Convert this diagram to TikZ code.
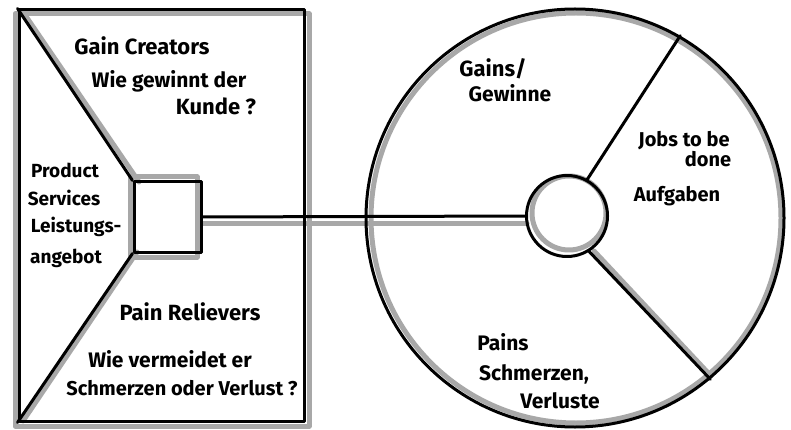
\documentclass[tikz,border=0pt]{standalone}
\usepackage{fontspec}
\setmainfont{Fira Sans}
\definecolor{shadegray}{gray}{0.66}
\begin{document}
\begin{tikzpicture}[x=1pt,y=-1pt,
  ink/.style={draw=black, line width=3pt, line join=round, line cap=round},
  shade/.style={draw=shadegray, line width=5pt, line join=round, line cap=round},
  lbl/.style={font=\bfseries\fontsize{#1}{#1}\selectfont, inner sep=0pt, text=black, anchor=base},
  lbl/.default=21
]
\useasboundingbox (0,0) rectangle (791,430);
\fill[white] (0,0) rectangle (791,430);

% ---------- grey marker shadows ----------
\draw[shade] (15,14) rectangle (309,426);
\draw[shade] (23,12) -- (139,182);
\draw[shade] (23,421) -- (137,252);
\draw[shade] (130,177) -- (197,177) -- (197,257) -- (130,257) -- cycle;
\draw[shade] (202,223) -- (527,223);
\draw[shade] (569,213) circle[radius=37];
\draw[shade] (594,251) -- (711,376);
\draw[shade] (576,218) circle[radius=205];

% ---------- value map ----------
\node[ink, minimum width=285pt, minimum height=411pt, inner sep=0pt] (frame) at (161.5,215.5) {};
\node[ink, minimum width=67pt, minimum height=70pt, inner sep=0pt] (prod) at (167.5,217) {};
\draw[ink] (frame.north west) -- (prod.north west);
\draw[ink] (frame.south west) -- (prod.south west);

% ---------- customer profile ----------
\node[ink, circle, minimum size=418pt, inner sep=0pt] (profile) at (575,218) {};
\node[ink, circle, minimum size=81pt, inner sep=0pt] (cust) at (567,216) {};
\draw[ink] (cust.61) -- (profile.60);
\draw[ink] (cust.-58) -- (profile.-50);

% ---------- fit connector ----------
\draw[ink] (prod.east) -- (cust.west);

% ---------- texts ----------
\node[lbl=22] (t1) at (142,55) {Gain Creators};
\node[lbl=21] (t2) at (169,88) {Wie gewinnt der};
\node[lbl=22] (t3) at (216,115) {Kunde ?};
\node[lbl=19] (t4) at (65,178) {Product};
\node[lbl=19] (t5) at (64,205) {Services};
\node[lbl=19] (t6) at (76,233) {Leistungs-};
\node[lbl=19] (t7) at (66,263) {angebot};
\node[lbl=22] (t8) at (190,320) {Pain Relievers};
\node[lbl=21] (t9) at (170,367) {Wie vermeidet er};
\node[lbl=20] (t10) at (182,395) {Schmerzen oder Verlust ?};
\node[lbl=22] (t11) at (493,77) {Gains/};
\node[lbl=21] (t12) at (510,102) {Gewinne};
\node[lbl=20] (t13) at (684,147) {Jobs to be};
\node[lbl=20] (t14) at (708,167) {done};
\node[lbl=20] (t15) at (677,202) {Aufgaben};
\node[lbl=21] (t16) at (503,350) {Pains};
\node[lbl=21] (t17) at (534,380) {Schmerzen,};
\node[lbl=21] (t18) at (560,408) {Verluste};
\end{tikzpicture}
\end{document}
